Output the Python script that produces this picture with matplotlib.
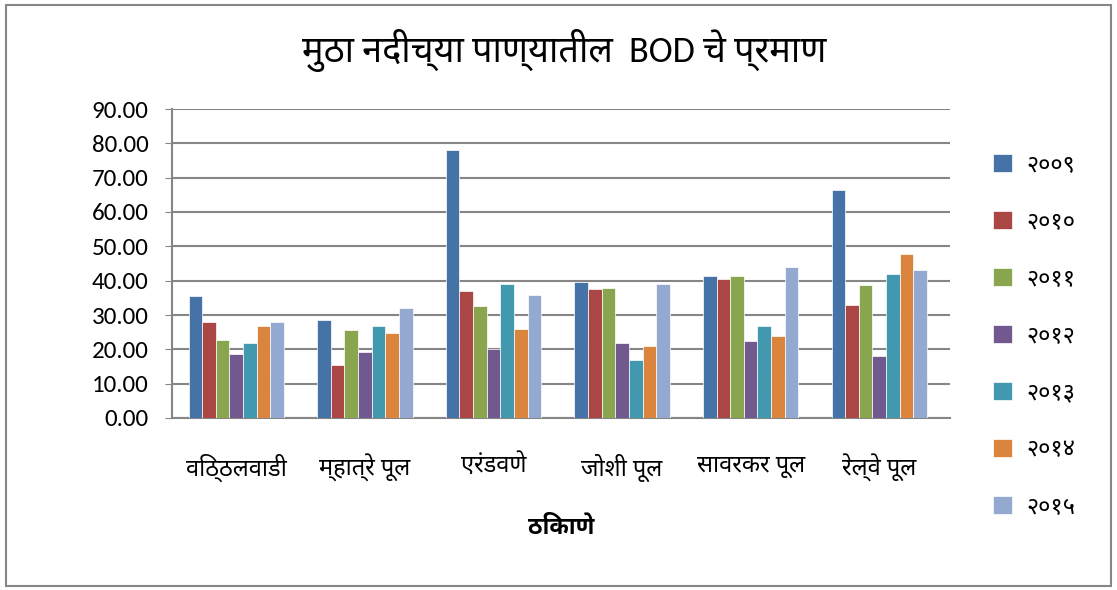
import matplotlib
matplotlib.use("Agg")
import matplotlib.pyplot as plt
from matplotlib.patches import Rectangle
import numpy as np

places = ["विठ्ठलवाडी", "म्हात्रे पूल", "एरंडवणे", "जोशी पूल", "सावरकर पूल", "रेल्वे पूल"]
years = ["२००९", "२०१०", "२०११", "२०१२", "२०१३", "२०१४", "२०१५"]
bod_2009 = [35.5, 28.6, 78.0, 39.5, 41.4, 66.3]
bod_2010 = [27.9, 15.4, 36.9, 37.5, 40.6, 32.9]
bod_2011 = [22.8, 25.5, 32.5, 37.9, 41.4, 38.6]
bod_2012 = [18.7, 19.1, 20.2, 21.7, 22.4, 18.2]
bod_2013 = [21.9, 26.8, 38.9, 16.9, 26.8, 41.9]
bod_2014 = [26.8, 24.9, 25.8, 20.9, 23.9, 47.9]
bod_2015 = [27.9, 31.9, 35.9, 38.9, 43.9, 43.0]
series = [bod_2009, bod_2010, bod_2011, bod_2012, bod_2013, bod_2014, bod_2015]
colors = ['#4572A7', '#AA4643', '#89A54E', '#71588F', '#4198AF', '#DB843D', '#93A9CF']

deva = ['Noto Sans Devanagari', 'DejaVu Sans']
deva_bold = ['Noto Sans Devanagari UI', 'Noto Sans Devanagari', 'DejaVu Sans']
latin = ['Carlito', 'Noto Sans Devanagari', 'DejaVu Sans']

fig = plt.figure(figsize=(11.17, 5.9), dpi=100)
fig.patches.append(Rectangle((0.005, 0.007), 0.99, 0.985, transform=fig.transFigure,
                             fill=False, edgecolor='#868686', linewidth=1.5))
ax = fig.add_axes([172/1117, 1 - 418/590, (950-172)/1117, (418-109)/590])

x = np.arange(len(places))
w = 0.106
for i, vals in enumerate(series):
    ax.bar(x + (i - 3) * w, vals, width=w, color=colors[i], edgecolor='white',
           linewidth=0.5, label=years[i], zorder=3)

ax.set_xlim(-0.5, len(places) - 0.45)
ax.set_ylim(0, 90)
ax.set_yticks(np.arange(0, 91, 10))
ax.set_yticklabels(["%.2f" % v for v in np.arange(0, 91, 10)], family=latin, fontsize=18)
ax.set_xticks(x)
ax.set_xticklabels(places, family=deva, fontsize=17)
ax.tick_params(axis='x', length=0, pad=26)
ax.tick_params(axis='y', length=5, color='#868686', pad=12)
ax.grid(axis='y', color='#868686', linewidth=1.5, zorder=0)
for s in ['top', 'right']:
    ax.spines[s].set_visible(False)
for s in ['left', 'bottom']:
    ax.spines[s].set_color('#868686')
    ax.spines[s].set_linewidth(1.5)
ax.set_xlabel("ठिकाणे", family=deva_bold, fontsize=17, fontweight='bold', labelpad=24)

fig.text(0.505, 1 - 50/590, "मुठा नदीच्या पाण्यातील  BOD चे प्रमाण", family=latin,
         fontsize=26, ha='center', va='center')

leg = ax.legend(loc='upper left', bbox_to_anchor=(972/1117, 1 - 132/590),
                bbox_transform=fig.transFigure, frameon=False, prop={'family': deva, 'size': 17},
                handlelength=0.8, handleheight=0.8, labelspacing=1.4, handletextpad=0.6)

fig.savefig("out.png", dpi=100)
